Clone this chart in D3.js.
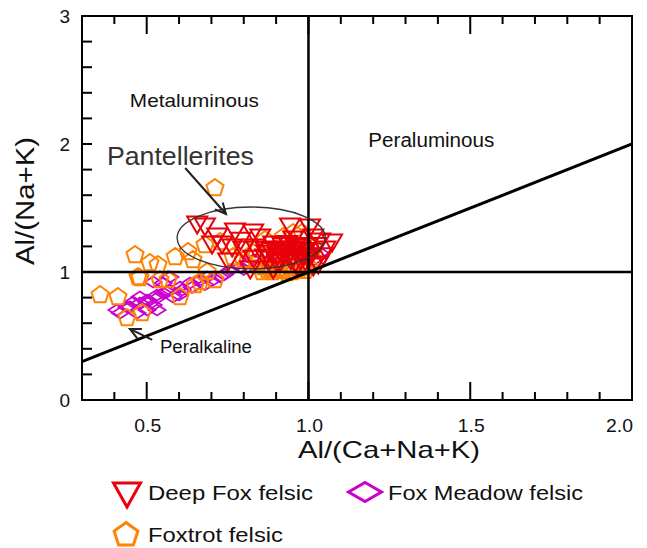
<!DOCTYPE html>
<html>
<head>
<meta charset="utf-8">
<script src="https://cdn.jsdelivr.net/npm/d3@7"></script>
<style>
  html, body { margin: 0; padding: 0; background: #fff; }
  text { font-family: "Liberation Sans", Arial, sans-serif; }
</style>
</head>
<body>
<svg id="chart" width="647" height="548"></svg>
<script>
// Alumina saturation plot: Al/(Ca+Na+K) vs Al/(Na+K), molar ratios

const xTickLabels = ["0.5", "1.0", "1.5", "2.0"];
const yTickLabels = ["0", "1", "2", "3"];

// Deep Fox felsic samples [A/CNK, A/NK]
const deepFox = [
  [0.656,1.367],[0.680,1.352],[0.702,1.211],[0.733,1.211],[0.764,1.188],[0.773,1.313],
  [0.829,1.305],[0.835,1.188],[0.752,1.078],[0.820,1.016],[0.866,1.172],[0.891,1.211],
  [0.912,1.156],[0.943,1.352],[1.005,1.344],[1.015,1.266],[1.036,1.234],[1.073,1.227],
  [0.953,1.250],[0.922,1.117],[0.953,1.109],[0.974,1.156],[1.005,1.117],[1.030,1.055],
  [0.881,1.094],[0.903,1.070],[0.866,1.109],[0.798,1.172],[0.851,1.266],[0.718,1.273],
  [0.996,1.195],[0.965,1.039],[0.934,1.172],[0.912,1.070],[0.953,1.172],[1.015,1.156],
  [1.052,1.172],[0.984,1.117],[0.891,1.016],[1.015,1.039],[0.940,1.130],[0.970,1.200],
  [0.990,1.080],[0.920,1.200],[0.870,1.140],[0.960,1.070],[1.000,1.100],[0.790,1.240],
  [0.830,1.100],[1.045,1.120],[0.925,1.145],[0.945,1.090],[0.980,1.140],[0.935,1.215],
  [0.905,1.125],[0.960,1.190],[0.990,1.160],[0.885,1.160],[0.975,1.090],[1.025,1.200]
];

// Foxtrot felsic samples
const foxtrot = [
  [0.711,1.656],[0.464,1.133],[0.510,1.070],[0.535,1.055],[0.588,1.117],[0.628,1.156],
  [0.643,1.094],[0.473,0.961],[0.479,0.953],[0.541,0.938],[0.566,0.938],[0.603,0.805],
  [0.356,0.820],[0.411,0.805],[0.439,0.641],[0.486,0.680],[0.650,0.898],[0.665,0.922],
  [0.711,0.938],[0.687,1.000],[0.680,1.211],[0.727,1.234],[0.767,1.117],[0.798,1.094],
  [0.829,1.148],[0.866,1.250],[0.922,1.273],[0.953,1.305],[0.980,1.305],[0.872,1.016],
  [0.912,1.031],[0.953,1.031],[0.980,1.031],[0.857,1.000],[0.934,0.992],[1.015,1.094],
  [0.965,1.070],[0.903,1.070],[0.841,1.070],[0.798,1.188],[0.953,1.172],[1.015,1.188],
  [0.890,1.000],[0.920,1.010],[0.950,1.000],[0.970,1.020],[0.990,1.010],[0.860,1.040],
  [0.940,1.050],[1.000,1.040],[0.905,1.020],[0.960,1.010],[0.880,1.030],[0.985,1.050]
];

// Fox Meadow felsic samples
const foxMeadow = [
  [0.418,0.680],[0.448,0.727],[0.479,0.758],[0.501,0.781],[0.532,0.797],[0.551,0.836],
  [0.572,0.859],[0.603,0.883],[0.634,0.914],[0.665,0.938],[0.687,0.961],[0.727,0.961],
  [0.758,1.016],[0.789,1.039],[0.810,1.070],[0.829,1.094],[0.872,1.070],[0.912,1.117],
  [0.953,1.148],[0.996,1.172],[1.036,1.148],[1.015,1.094],[0.408,0.703],[0.439,0.727],
  [0.458,0.766],[0.479,0.805],[0.501,0.766],[0.520,0.742],[0.532,0.820],[0.563,0.844],
  [0.501,0.703],[0.532,0.703],[0.470,0.680],[0.581,0.805],[0.551,0.914],[0.572,0.961],
  [0.520,0.922],[0.610,0.860],[0.640,0.880],[0.700,0.930],[0.740,0.980],[0.680,0.900],
  [0.850,1.060],[0.900,1.090],[0.930,1.100],[0.970,1.130],[0.800,1.020],[0.600,0.820]
];

const seriesNames = ["Deep Fox felsic", "Fox Meadow felsic", "Foxtrot felsic"];

const svg = d3.select("#chart");
const margin = { left: 82, right: 15, top: 16, bottom: 148 };
const W = 647, H = 548;

const x = d3.scaleLinear().domain([0.3, 2.0]).range([margin.left, W - margin.right]);
const y = d3.scaleLinear().domain([0, 3]).range([H - margin.bottom, margin.top]);

const RED = "#e8000b", ORANGE = "#ff8200", MAGENTA = "#cc00cc";

// marker shapes
function triPath(w, h) { return `M${-w/2},${-h/2}L${w/2},${-h/2}L0,${h/2}Z`; }
function diaPath(w, h) { return `M${-w/2},0L0,${-h/2}L${w/2},0L0,${h/2}Z`; }
function pentPath(r) {
  const pts = d3.range(5).map(i => {
    const a = -Math.PI / 2 + i * 2 * Math.PI / 5;
    return [r * Math.cos(a), r * Math.sin(a)];
  });
  return "M" + pts.map(p => p.join(",")).join("L") + "Z";
}

const clipId = "plotclip";
svg.append("clipPath").attr("id", clipId).append("rect")
  .attr("x", x(0.3)).attr("y", y(3)).attr("width", x(2.0) - x(0.3)).attr("height", y(0) - y(3));

// data marks
const marks = svg.append("g");
marks.selectAll(".fm").data(foxMeadow).join("path")
  .attr("d", diaPath(17, 11))
  .attr("transform", d => `translate(${x(d[0])},${y(d[1])})`)
  .attr("fill", "none").attr("stroke", MAGENTA).attr("stroke-width", 1.8);
marks.selectAll(".ft").data(foxtrot).join("path")
  .attr("d", pentPath(9))
  .attr("transform", d => `translate(${x(d[0])},${y(d[1])})`)
  .attr("fill", "none").attr("stroke", ORANGE).attr("stroke-width", 2);
marks.selectAll(".df").data(deepFox).join("path")
  .attr("d", triPath(20, 17))
  .attr("transform", d => `translate(${x(d[0])},${y(d[1])})`)
  .attr("fill", "none").attr("stroke", RED).attr("stroke-width", 2);

// field boundaries
const lines = svg.append("g").attr("clip-path", `url(#${clipId})`);
lines.append("line").attr("x1", x(1)).attr("x2", x(1)).attr("y1", y(0)).attr("y2", y(3))
  .attr("stroke", "#000").attr("stroke-width", 2.5);
lines.append("line").attr("x1", x(0.3)).attr("x2", x(2)).attr("y1", y(1)).attr("y2", y(1))
  .attr("stroke", "#000").attr("stroke-width", 2.5);
lines.append("line").attr("x1", x(0.3)).attr("x2", x(2)).attr("y1", y(0.3)).attr("y2", y(2))
  .attr("stroke", "#000").attr("stroke-width", 3);

// pantellerite field ellipse
const ex = 0.823, ey = 1.266, erx = 0.229, ery = 0.242;
svg.append("ellipse")
  .attr("cx", x(ex)).attr("cy", y(ey))
  .attr("rx", x(ex + erx) - x(ex)).attr("ry", y(ey) - y(ey + ery))
  .attr("fill", "none").attr("stroke", "#333").attr("stroke-width", 1.3);

// arrows with open heads
function arrow(x0, y0, x1, y1) {
  const px0 = x(x0), py0 = y(y0), px1 = x(x1), py1 = y(y1);
  const ang = Math.atan2(py1 - py0, px1 - px0);
  const L = 12, spread = 0.45;
  const g = svg.append("g").attr("stroke", "#222").attr("stroke-width", 2).attr("fill", "none");
  g.append("line").attr("x1", px0).attr("y1", py0).attr("x2", px1).attr("y2", py1);
  g.append("path").attr("d",
    `M${px1 - L * Math.cos(ang - spread)},${py1 - L * Math.sin(ang - spread)}L${px1},${py1}L${px1 - L * Math.cos(ang + spread)},${py1 - L * Math.sin(ang + spread)}`);
}
arrow(0.619, 1.8125, 0.745, 1.453);
arrow(0.517, 0.469, 0.448, 0.555);

// frame and ticks
svg.append("rect")
  .attr("x", x(0.3)).attr("y", y(3)).attr("width", x(2) - x(0.3)).attr("height", y(0) - y(3))
  .attr("fill", "none").attr("stroke", "#000").attr("stroke-width", 2);

const ticks = svg.append("g").attr("stroke", "#000").attr("stroke-width", 2);
const xTicks = d3.range(4, 20).map(i => i / 10);
xTicks.forEach(v => {
  const major = Math.abs(v * 2 - Math.round(v * 2)) < 1e-6;
  const len = major ? 18 : 8;
  ticks.append("line").attr("x1", x(v)).attr("x2", x(v)).attr("y1", y(0)).attr("y2", y(0) - len);
  ticks.append("line").attr("x1", x(v)).attr("x2", x(v)).attr("y1", y(3)).attr("y2", y(3) + len);
});
d3.range(1, 15).map(i => i / 5).forEach(v => {
  ticks.append("line").attr("x1", x(0.3)).attr("x2", x(0.3) + 10).attr("y1", y(v)).attr("y2", y(v));
});

// tick labels
xTickLabels.forEach(t => {
  const v = +t;
  const last = v === 2;
  svg.append("text").attr("x", last ? x(v) + 1 : x(v) + 1).attr("y", y(0) + 32)
    .attr("text-anchor", last ? "end" : "middle")
    .attr("font-size", 19).attr("textLength", 27).attr("lengthAdjust", "spacingAndGlyphs")
    .attr("fill", "#111").text(t);
});
yTickLabels.forEach(t => {
  svg.append("text").attr("x", x(0.3) - 12).attr("y", y(+t) + 7)
    .attr("text-anchor", "end").attr("font-size", 19).attr("fill", "#111").text(t);
});

// axis titles
svg.append("text").attr("x", 298).attr("y", 458)
  .attr("font-size", 24).attr("textLength", 182).attr("lengthAdjust", "spacingAndGlyphs")
  .attr("fill", "#111").text("Al/(Ca+Na+K)");
svg.append("text").attr("transform", "translate(34,265) rotate(-90)")
  .attr("font-size", 25).attr("textLength", 128).attr("lengthAdjust", "spacingAndGlyphs")
  .attr("fill", "#111").text("Al/(Na+K)");

// field labels
function label(txt, dx, dy, size, len, color) {
  svg.append("text").attr("x", x(dx)).attr("y", y(dy))
    .attr("font-size", size).attr("textLength", len).attr("lengthAdjust", "spacingAndGlyphs")
    .attr("fill", color).text(txt);
}
label("Metaluminous", 0.448, 2.289, 19, 129, "#111");
label("Peraluminous", 1.185, 1.977, 20, 126, "#111");
label("Pantellerites", 0.377, 1.836, 25, 147, "#333");
label("Peralkaline", 0.541, 0.367, 18, 92, "#111");

// legend
const leg = svg.append("g");
leg.append("path").attr("d", triPath(27, 24)).attr("transform", "translate(127,495)")
  .attr("fill", "none").attr("stroke", RED).attr("stroke-width", 3);
leg.append("text").attr("x", 148).attr("y", 500).attr("font-size", 21)
  .attr("textLength", 165).attr("lengthAdjust", "spacingAndGlyphs").attr("fill", "#111").text(seriesNames[0]);
leg.append("path").attr("d", diaPath(33, 19)).attr("transform", "translate(365,492)")
  .attr("fill", "none").attr("stroke", MAGENTA).attr("stroke-width", 3);
leg.append("text").attr("x", 388).attr("y", 500).attr("font-size", 21)
  .attr("textLength", 195).attr("lengthAdjust", "spacingAndGlyphs").attr("fill", "#111").text(seriesNames[1]);
leg.append("path").attr("d", pentPath(12.5)).attr("transform", "translate(126,535)")
  .attr("fill", "none").attr("stroke", ORANGE).attr("stroke-width", 3);
leg.append("text").attr("x", 148).attr("y", 542).attr("font-size", 21)
  .attr("textLength", 135).attr("lengthAdjust", "spacingAndGlyphs").attr("fill", "#111").text(seriesNames[2]);
</script>
</body>
</html>
